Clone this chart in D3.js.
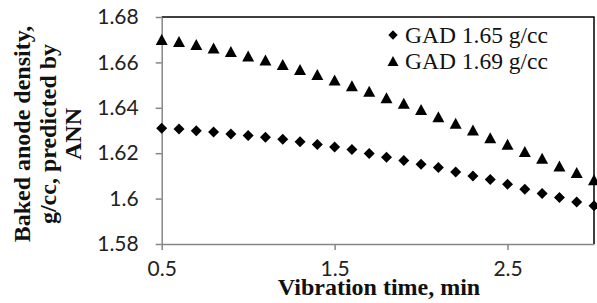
<!DOCTYPE html>
<html>
<head>
<meta charset="utf-8">
<script src="https://cdn.jsdelivr.net/npm/d3@7"></script>
<style>
  body { margin: 0; background: #fff; }
  .axis path, .axis line { stroke: #868686; stroke-width: 1.5; }
  .axis text { font-family: Lato, "Liberation Sans", sans-serif; font-size: 21px; fill: #222; }
  .title { font-family: "Liberation Serif", "Times New Roman", serif; font-weight: bold; font-size: 24px; fill: #111; }
  .legend text { font-family: "Liberation Serif", "Times New Roman", serif; font-size: 23.5px; fill: #111; }
</style>
</head>
<body>
<script>

var time = [0.5, 0.6, 0.7, 0.8, 0.9, 1.0, 1.1, 1.2, 1.3, 1.4, 1.5, 1.6, 1.7,
            1.8, 1.9, 2.0, 2.1, 2.2, 2.3, 2.4, 2.5, 2.6, 2.7, 2.8, 2.9, 3.0];

var gad165 = [1.6310, 1.6307, 1.6299, 1.6293, 1.6285, 1.6278, 1.6270, 1.6261, 1.6250,
              1.6238, 1.6227, 1.6216, 1.6199, 1.6182, 1.6168, 1.6151, 1.6137, 1.6117,
              1.6100, 1.6084, 1.6063, 1.6041, 1.6022, 1.6005, 1.5985, 1.5968];

var gad169 = [1.6701, 1.6692, 1.6679, 1.6663, 1.6648, 1.6628, 1.6611, 1.6591, 1.6569,
              1.6547, 1.6522, 1.6497, 1.6473, 1.6444, 1.6420, 1.6393, 1.6361, 1.6332,
              1.6302, 1.6268, 1.6239, 1.6207, 1.6178, 1.6144, 1.6115, 1.6083];

var xTicks = [0.5, 1.5, 2.5],
    yTicks = [1.58, 1.6, 1.62, 1.64, 1.66, 1.68];

var seriesNames = ["GAD 1.65 g/cc", "GAD 1.69 g/cc"];

var width = 597,
    height = 303,
    plotLeft = 161.7,
    plotRight = 594,
    plotTop = 17,
    plotBottom = 244;

var x = d3.scaleLinear()
    .domain([0.5, 3.0])
    .range([plotLeft, plotRight]);

var y = d3.scaleLinear()
    .domain([1.58, 1.68])
    .range([plotBottom, plotTop]);

// markers: diamond (rotated square) and triangle, both centered on their box
function diamond(s) {
  return "M0," + (-s) + "L" + s + ",0L0," + s + "L" + (-s) + ",0Z";
}
function triangle(w, h) {
  return "M0," + (-h / 2) + "L" + (w / 2) + "," + (h / 2) + "L" + (-w / 2) + "," + (h / 2) + "Z";
}

var svg = d3.select("body").append("svg")
    .attr("width", width)
    .attr("height", height);

// frame top and right
svg.append("path")
    .attr("d", "M" + plotLeft + "," + plotTop + "H" + plotRight + "V" + plotBottom)
    .attr("fill", "none")
    .attr("stroke", "#000")
    .attr("stroke-width", 1.5);

var xAxis = d3.axisBottom(x)
    .tickValues(xTicks)
    .tickFormat(d3.format(".1f"))
    .tickSizeInner(6)
    .tickSizeOuter(0)
    .tickPadding(11);

var yAxis = d3.axisLeft(y)
    .tickValues(yTicks)
    .tickFormat(function(d) { return d3.format(".2f")(d).replace(/0$/, ""); })
    .tickSizeInner(6)
    .tickSizeOuter(0)
    .tickPadding(17);

svg.append("g")
    .attr("class", "x axis")
    .attr("transform", "translate(0," + plotBottom + ")")
    .call(xAxis);

svg.append("g")
    .attr("class", "y axis")
    .attr("transform", "translate(" + plotLeft + ",0)")
    .call(yAxis);

// data points
svg.selectAll(".d165")
    .data(time)
  .enter().append("path")
    .attr("class", "d165")
    .attr("d", diamond(5.5))
    .attr("transform", function(d, i) { return "translate(" + x(d) + "," + y(gad165[i]) + ")"; })
    .attr("fill", "#000");

svg.selectAll(".d169")
    .data(time)
  .enter().append("path")
    .attr("class", "d169")
    .attr("d", triangle(12, 11))
    .attr("transform", function(d, i) { return "translate(" + x(d) + "," + y(gad169[i]) + ")"; })
    .attr("fill", "#000");

// legend
var legend = svg.selectAll("g.legend")
    .data(seriesNames)
  .enter().append("g")
    .attr("class", "legend")
    .attr("transform", function(d, i) { return "translate(393," + (35 + i * 26) + ")"; });

legend.append("path")
    .attr("d", function(d, i) { return i === 0 ? diamond(4.7) : triangle(11, 10); })
    .attr("fill", "#000");

legend.append("text")
    .attr("x", 12)
    .attr("y", 7.5)
    .text(function(d) { return d; });

// axis titles
svg.append("text")
    .attr("class", "title")
    .attr("x", 379)
    .attr("y", 295)
    .attr("text-anchor", "middle")
    .text("Vibration time, min");

var yTitle = ["Baked anode density,", "g/cc, predicted by", "ANN"];

svg.append("g")
    .attr("transform", "translate(0,134) rotate(-90)")
  .selectAll("text")
    .data(yTitle)
  .enter().append("text")
    .attr("class", "title")
    .attr("x", 0)
    .attr("y", function(d, i) { return 30 + i * 25.5; })
    .attr("text-anchor", "middle")
    .text(function(d) { return d; });

</script>
</body>
</html>
